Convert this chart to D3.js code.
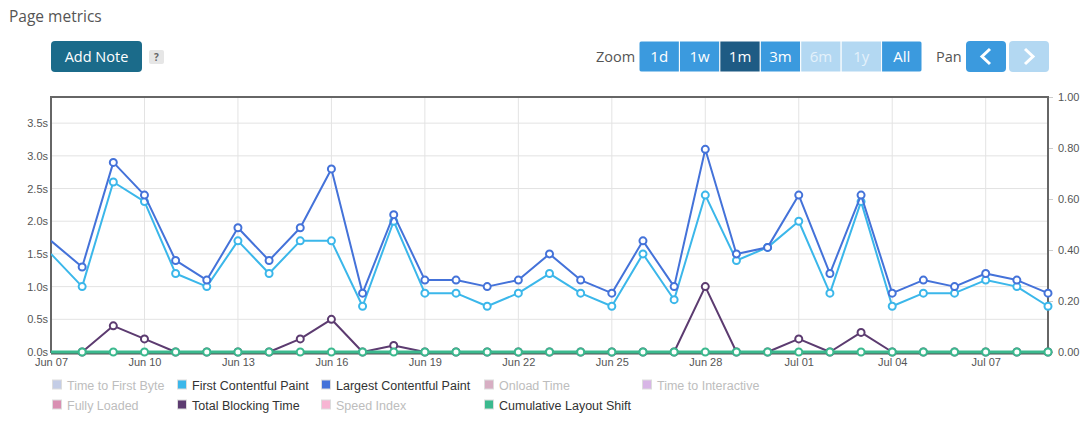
<!DOCTYPE html>
<html>
<head>
<meta charset="utf-8">
<script src="https://cdn.jsdelivr.net/npm/d3@7"></script>
<style>
  body { margin: 0; background: #fff; }
  svg text { font-family: "Liberation Sans", Arial, sans-serif; }
  .ui text { font-family: "Open Sans", "Noto Sans", sans-serif; }
</style>
</head>
<body>
<svg id="chart" width="1090" height="422"></svg>
<script>
// days shown (one point per day)
var days = ['2023-06-07','2023-06-08','2023-06-09','2023-06-10','2023-06-11','2023-06-12','2023-06-13',
  '2023-06-14','2023-06-15','2023-06-16','2023-06-17','2023-06-18','2023-06-19','2023-06-20','2023-06-21',
  '2023-06-22','2023-06-23','2023-06-24','2023-06-25','2023-06-26','2023-06-27','2023-06-28','2023-06-29',
  '2023-06-30','2023-07-01','2023-07-02','2023-07-03','2023-07-04','2023-07-05','2023-07-06','2023-07-07',
  '2023-07-08','2023-07-09'];

// seconds
var lcp = [1.7,1.3,2.9,2.4,1.4,1.1,1.9,1.4,1.9,2.8,0.9,2.1,1.1,1.1,1.0,1.1,1.5,1.1,0.9,1.7,1.0,3.1,1.5,1.6,2.4,1.2,2.4,0.9,1.1,1.0,1.2,1.1,0.9];
var fcp = [1.5,1.0,2.6,2.3,1.2,1.0,1.7,1.2,1.7,1.7,0.7,2.0,0.9,0.9,0.7,0.9,1.2,0.9,0.7,1.5,0.8,2.4,1.4,1.6,2.0,0.9,2.3,0.7,0.9,0.9,1.1,1.0,0.7];
var tbt = [0,0,0.4,0.2,0,0,0,0,0.2,0.5,0,0.1,0,0,0,0,0,0,0,0,0,1.0,0,0,0.2,0,0.3,0,0,0,0,0,0];
// unitless, right axis
var cls = [0,0,0,0,0,0,0,0,0,0,0,0,0,0,0,0,0,0,0,0,0,0,0,0,0,0,0,0,0,0,0,0,0];

var leftTicks = [0,0.5,1,1.5,2,2.5,3,3.5];
var rightTicks = [0,0.2,0.4,0.6,0.8,1];
var xTicks = ['2023-06-07','2023-06-10','2023-06-13','2023-06-16','2023-06-19','2023-06-22',
  '2023-06-25','2023-06-28','2023-07-01','2023-07-04','2023-07-07'];

var legendNames = ['Time to First Byte','First Contentful Paint','Largest Contentful Paint','Onload Time','Time to Interactive',
  'Fully Loaded','Total Blocking Time','Speed Index','Cumulative Layout Shift'];
var legendColors = ['#c4cde6','#3bb7ea','#4472d9','#d7aec3','#d8b6e6','#d98fb2','#5c3b70','#f7b5d3','#3bb98e'];
var legendOn = [false,true,true,false,false,false,true,false,true];

var zoomLabels = ['1d','1w','1m','3m','6m','1y','All'];

var parse = d3.timeParse('%Y-%m-%d');
var dates = days.map(parse);

var svg = d3.select('#chart');
var pLeft = 51, pRight = 1048, pTop = 97, pBottom = 352;

var x = d3.scaleTime().domain([dates[0], dates[dates.length-1]]).range([pLeft, pRight]);
var y = d3.scaleLinear().domain([0, 3.9]).range([pBottom, pTop]);
var y2 = d3.scaleLinear().domain([0, 1]).range([pBottom, pTop]);

// ---- header ----
var ui = svg.append('g').attr('class', 'ui');
ui.append('text').attr('x', 9).attr('y', 22).attr('fill', '#555').style('font-size', '15.5px').text('Page metrics');

ui.append('rect').attr('x', 51).attr('y', 41).attr('width', 91).attr('height', 31).attr('rx', 4).attr('fill', '#1b6b8a');
ui.append('text').attr('x', 96.5).attr('y', 61.5).attr('text-anchor', 'middle').attr('fill', '#fff')
  .style('font-size', '14.5px').text('Add Note');
ui.append('rect').attr('x', 149).attr('y', 50).attr('width', 15).attr('height', 14).attr('rx', 2).attr('fill', '#e6e6e6');
ui.append('text').attr('x', 156.5).attr('y', 61).attr('text-anchor', 'middle').attr('fill', '#666')
  .style('font-size', '10px').style('font-weight', 'bold').text('?');

ui.append('text').attr('x', 596).attr('y', 62).attr('fill', '#555').style('font-size', '14.5px').text('Zoom');

var defs = svg.append('defs');
defs.append('clipPath').attr('id', 'zclip').append('rect')
  .attr('x', 639).attr('y', 41).attr('width', 283).attr('height', 31).attr('rx', 4);
defs.append('clipPath').attr('id', 'plotclip').append('rect')
  .attr('x', pLeft).attr('y', pTop - 5).attr('width', pRight - pLeft + 6).attr('height', pBottom - pTop + 10);

var bx = d3.scaleBand().domain(zoomLabels).range([639, 922]);
var zg = ui.append('g').attr('clip-path', 'url(#zclip)');
zg.selectAll('rect').data(zoomLabels).enter().append('rect')
  .attr('x', function (d) { return bx(d); })
  .attr('y', 41).attr('width', bx.bandwidth()).attr('height', 31)
  .attr('fill', function (d) {
    if (d == '1m') return '#1e5b84';
    if (d == '6m' || d == '1y') return '#b3d8f2';
    return '#3b9ade';
  })
  .attr('stroke', '#fff').attr('stroke-width', 1);
zg.selectAll('text').data(zoomLabels).enter().append('text')
  .attr('x', function (d) { return bx(d) + bx.bandwidth() / 2; })
  .attr('y', 62).attr('text-anchor', 'middle')
  .attr('fill', function (d) { return (d == '6m' || d == '1y') ? '#e4f1fb' : '#fff'; })
  .style('font-size', '15px').text(function (d) { return d; });

ui.append('text').attr('x', 936).attr('y', 62).attr('fill', '#555').style('font-size', '14.5px').text('Pan');
ui.append('rect').attr('x', 966).attr('y', 41).attr('width', 40).attr('height', 31).attr('rx', 4).attr('fill', '#3b9ade');
ui.append('rect').attr('x', 1009).attr('y', 41).attr('width', 40).attr('height', 31).attr('rx', 4).attr('fill', '#b3d8f2');
ui.append('path').attr('d', 'M990,49 L982,56.5 L990,64').attr('fill', 'none').attr('stroke', '#fff').attr('stroke-width', 3);
ui.append('path').attr('d', 'M1025,49 L1033,56.5 L1025,64').attr('fill', 'none').attr('stroke', '#fff').attr('stroke-width', 3);

// ---- grid ----
var grid = svg.append('g');
grid.selectAll('line.h').data(leftTicks.slice(1)).enter().append('line')
  .attr('x1', pLeft).attr('x2', pRight)
  .attr('y1', function (d) { return y(d); }).attr('y2', function (d) { return y(d); })
  .attr('stroke', '#e3e3e3').attr('stroke-width', 1);
grid.selectAll('line.v').data(xTicks.slice(1).map(parse)).enter().append('line')
  .attr('x1', function (d) { return x(d); }).attr('x2', function (d) { return x(d); })
  .attr('y1', pTop).attr('y2', pBottom)
  .attr('stroke', '#e3e3e3').attr('stroke-width', 1);

// ---- axes ----
var ax = svg.append('g').attr('transform', 'translate(' + pLeft + ',0)')
  .call(d3.axisLeft(y).tickValues(leftTicks).tickSize(0).tickPadding(3)
    .tickFormat(function (d) { return d.toFixed(1) + 's'; }));
var ax2 = svg.append('g').attr('transform', 'translate(' + pRight + ',0)')
  .call(d3.axisRight(y2).tickValues(rightTicks).tickSize(5).tickPadding(5)
    .tickFormat(function (d) { return d.toFixed(2); }));
var axx = svg.append('g').attr('transform', 'translate(0,' + pBottom + ')')
  .call(d3.axisBottom(x).tickValues(xTicks.map(parse)).tickSize(0).tickPadding(6)
    .tickFormat(d3.timeFormat('%b %d')));
[ax, ax2, axx].forEach(function (a) {
  a.select('.domain').remove();
  a.selectAll('text').attr('fill', '#555').style('font-size', '11px').style('font-family', '"Liberation Sans", Arial, sans-serif');
  a.selectAll('line').attr('stroke', '#ccc');
});

// plot frame
svg.append('rect').attr('x', pLeft).attr('y', pTop).attr('width', pRight - pLeft).attr('height', pBottom - pTop)
  .attr('fill', 'none').attr('stroke', '#666').attr('stroke-width', 2);
svg.append('line').attr('x1', pLeft).attr('x2', pRight).attr('y1', pBottom + 1).attr('y2', pBottom + 1)
  .attr('stroke', '#555').attr('stroke-width', 3);

// ---- series ----
var series = [
  {vals: fcp, color: '#3bb7ea', scale: y},
  {vals: lcp, color: '#4472d9', scale: y},
  {vals: tbt, color: '#5c3b70', scale: y},
  {vals: cls, color: '#3bb98e', scale: y2, width: 3}
];

var plot = svg.append('g').attr('clip-path', 'url(#plotclip)');
series.forEach(function (s) {
  var line = d3.line()
    .x(function (d, i) { return x(dates[i]); })
    .y(function (d) { return s.scale(d); });
  plot.append('path').datum(s.vals).attr('d', line)
    .attr('fill', 'none').attr('stroke', s.color).attr('stroke-width', s.width || 2)
    .attr('stroke-linejoin', 'round');
  plot.selectAll(null).data(s.vals.slice(1)).enter().append('circle')
    .attr('cx', function (d, i) { return x(dates[i + 1]); })
    .attr('cy', function (d) { return s.scale(d); })
    .attr('r', 3.5).attr('fill', '#fff').attr('stroke', s.color).attr('stroke-width', 2);
});

// ---- legend ----
var legX = [52, 177, 321, 484, 642];
var leg = svg.append('g');
var items = leg.selectAll('g').data(legendNames).enter().append('g')
  .attr('transform', function (d, i) {
    return 'translate(' + legX[i < 5 ? i : i - 5] + ',' + (i < 5 ? 385 : 405) + ')';
  });
items.append('rect').attr('x', 0.5).attr('y', -5).attr('width', 9).attr('height', 9)
  .attr('fill', function (d, i) { return legendColors[i]; })
  .attr('stroke', '#ddd').attr('stroke-width', 1);
items.append('text').attr('x', 15).attr('y', 4.5)
  .attr('fill', function (d, i) { return legendOn[i] ? '#333' : '#bdbdbd'; })
  .style('font-size', '12.5px').text(function (d) { return d; });
</script>
</body>
</html>
